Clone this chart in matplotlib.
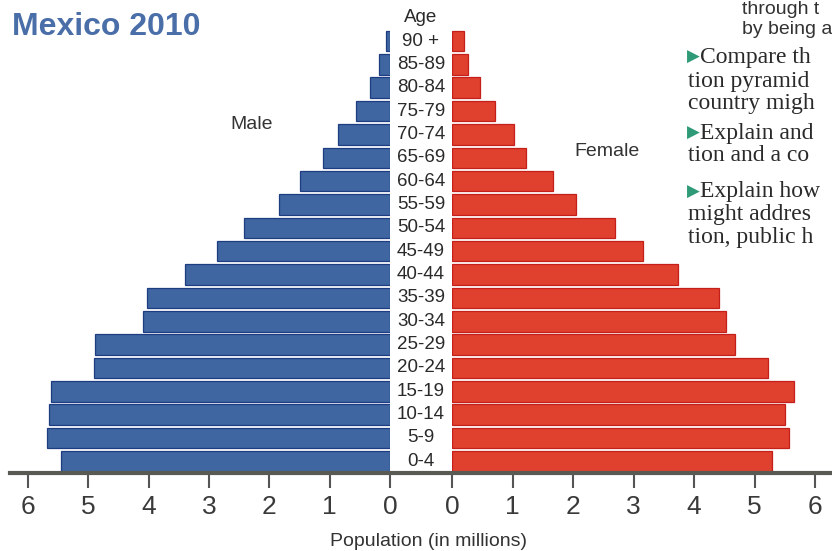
import matplotlib.pyplot as plt
from matplotlib.lines import Line2D

# === data (millions) ===
age_groups = ["0-4", "5-9", "10-14", "15-19", "20-24", "25-29", "30-34", "35-39",
              "40-44", "45-49", "50-54", "55-59", "60-64", "65-69", "70-74",
              "75-79", "80-84", "85-89", "90 +"]
male = [5.46, 5.69, 5.65, 5.62, 4.91, 4.89, 4.10, 4.03, 3.40, 2.87, 2.42,
        1.84, 1.49, 1.11, 0.86, 0.56, 0.33, 0.18, 0.07]
female = [5.29, 5.57, 5.50, 5.65, 5.22, 4.67, 4.52, 4.41, 3.73, 3.16, 2.70,
          2.05, 1.67, 1.23, 1.03, 0.71, 0.46, 0.27, 0.20]
ticks = [0, 1, 2, 3, 4, 5, 6]

side_lines = [
    ("through t", 9, "sans"),
    ("by being a", 29, "sans"),
    ("Compare th", 57, "tri"),
    ("tion pyramid", 81, "serif"),
    ("country migh", 104, "serif"),
    ("Explain and", 133, "tri"),
    ("tion and a co", 156, "serif"),
    ("Explain how", 192, "tri"),
    ("might addres", 215, "serif"),
    ("tion, public h", 238, "serif"),
]

W, H = 832, 551
fig = plt.figure(figsize=(W / 100, H / 100), dpi=100)
fig.patch.set_facecolor("white")

blue, blue_edge = "#3f66a0", "#1d3c82"
red, red_edge = "#e0402e", "#c41f1a"
tick_col = "#555555"

bottom = (H - 473) / H
top = (H - 28) / H
axL = fig.add_axes([10 / W, bottom, 380 / W, top - bottom])
axR = fig.add_axes([452 / W, bottom, 380 / W, top - bottom])

ypos = list(range(len(age_groups)))
axL.barh(ypos, male, height=0.88, color=blue, edgecolor=blue_edge, linewidth=0.9)
axR.barh(ypos, female, height=0.88, color=red, edgecolor=red_edge, linewidth=0.9)

axL.set_xlim(6.3, 0)
axR.set_xlim(0, 6.28)
for ax in (axL, axR):
    ax.set_ylim(-0.5, 18.56)
    ax.set_facecolor("none")
    for s in ax.spines.values():
        s.set_visible(False)
    ax.set_yticks([])
    ax.set_xticks(ticks)
    ax.set_xticklabels([str(t) for t in ticks], fontsize=19,
                       family="Liberation Sans", color="#3a3a3a")
    ax.tick_params(axis="x", direction="out", length=11, width=1.5,
                   color=tick_col, pad=5)

# baseline across both halves
fig.add_artist(Line2D([10 / W, 1.0], [bottom, bottom], color="#5a5a55",
                      linewidth=3, transform=fig.transFigure))

# age labels in the gap
for i, lab in enumerate(age_groups):
    y = bottom + (i + 0.5) / 19.06 * (top - bottom)
    fig.text(421 / W, y, lab, ha="center", va="center", fontsize=13.5,
             family="Liberation Sans", color="#2a2a2a")
fig.text(421 / W, 1 - 18 / H, "Age", ha="center", va="center", fontsize=13.5,
         family="Liberation Sans", color="#2a2a2a")

fig.text(252 / W, 1 - 124 / H, "Male", ha="center", va="center", fontsize=14,
         family="Liberation Sans", color="#333333")
fig.text(607 / W, 1 - 151 / H, "Female", ha="center", va="center", fontsize=14,
         family="Liberation Sans", color="#333333")
fig.text(429 / W, 1 - 542 / H, "Population (in millions)", ha="center",
         va="center", fontsize=14, family="Liberation Sans", color="#333333")

fig.text(12 / W, 1 - 27 / H, "Mexico 2010", ha="left", va="center",
         fontsize=23, fontweight="bold", family="Liberation Sans",
         color="#4a6ea8")

# fragments of the book page on the right
for txt, yy, kind in side_lines:
    if kind == "sans":
        fig.text(742 / W, 1 - yy / H, txt, ha="left", va="center", fontsize=14,
                 family="Liberation Sans", color="#333333")
    elif kind == "tri":
        fig.text(687 / W, 1 - yy / H, "\u25B6", ha="left", va="center",
                 fontsize=12, family="DejaVu Sans", color="#2e9a78")
        fig.text(700 / W, 1 - yy / H, txt, ha="left", va="center", fontsize=17,
                 family="Liberation Serif", color="#2a2a2a")
    else:
        fig.text(688 / W, 1 - yy / H, txt, ha="left", va="center", fontsize=17,
                 family="Liberation Serif", color="#2a2a2a")

fig.savefig("out.png", dpi=100)
